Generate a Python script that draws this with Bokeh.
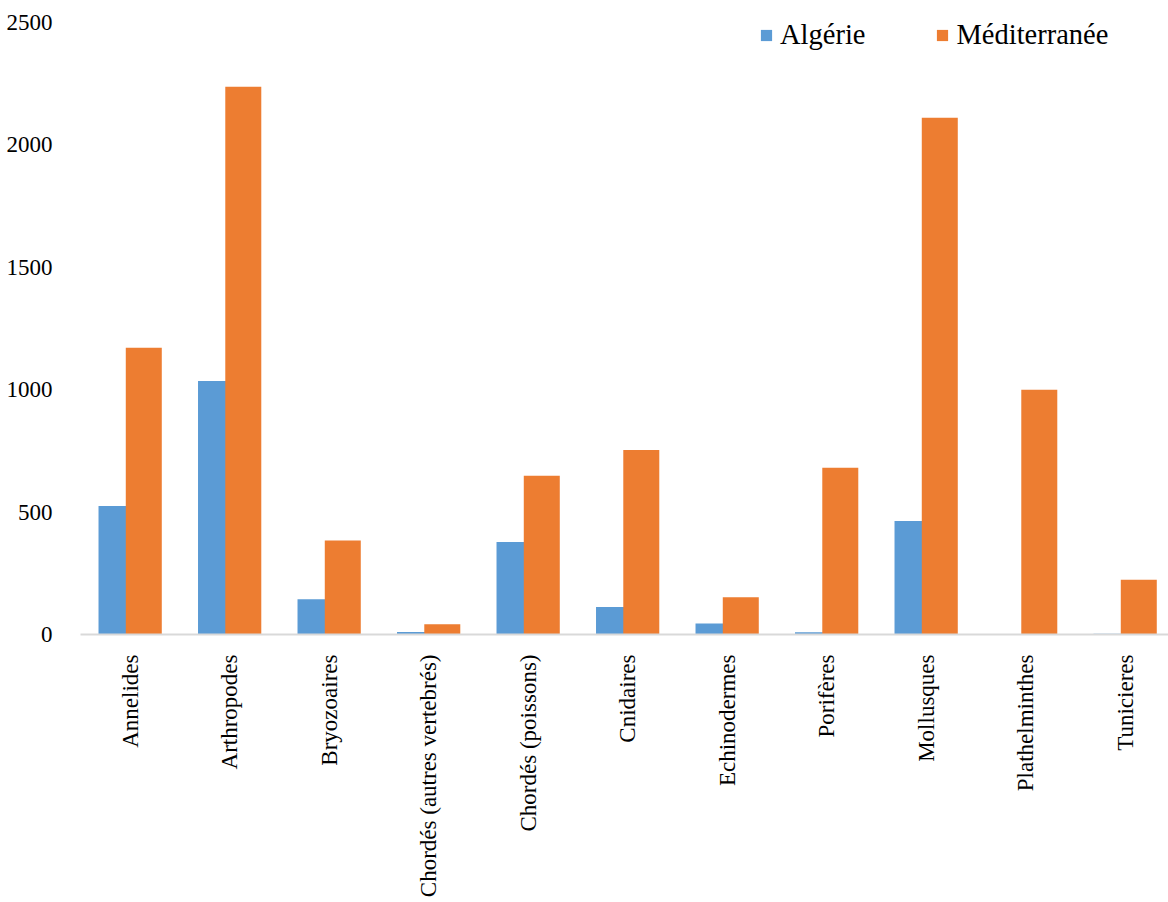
import math
from bokeh.plotting import figure
from bokeh.models import ColumnDataSource, Range1d, FixedTicker, Legend, LegendItem
from bokeh.transform import dodge
from bokeh.embed import file_html
from bokeh.resources import INLINE

# Number of species per group: Algeria vs. whole Mediterranean
categories = ["Annelides", "Arthropodes", "Bryozoaires", "Chordés (autres vertebrés)",
              "Chordés (poissons)", "Cnidaires", "Echinodermes", "Porifères",
              "Mollusques", "Plathelminthes", "Tunicieres"]
algerie = [525, 1036, 144, 10, 378, 112, 45, 9, 464, 0, 3]
mediterranee = [1171, 2238, 384, 42, 648, 754, 152, 681, 2111, 1000, 224]
y_ticks = [0, 500, 1000, 1500, 2000, 2500]

FONT = "Liberation Serif"
BLUE = "#5B9BD5"
ORANGE = "#ED7D31"

idx = list(range(len(categories)))
src = ColumnDataSource(dict(x=idx, alg=algerie, med=mediterranee))

W, H = 1168, 902
LEFT, BOTTOM = 80, 268
frame_w = W - LEFT
frame_h = H - BOTTOM
cat_px = 99.5           # width of one category slot in pixels
px_per_unit = 612 / 2500  # vertical scale: 2500 sits 22 px below the top edge

p = figure(width=W, height=H, output_backend="svg", toolbar_location=None,
           x_range=Range1d(-0.5, -0.5 + frame_w / cat_px),
           y_range=Range1d(0, frame_h / px_per_unit),
           min_border_left=LEFT, min_border_right=0,
           min_border_top=0, min_border_bottom=BOTTOM)
p.outline_line_color = None
p.xgrid.grid_line_color = None
p.ygrid.grid_line_color = None
p.background_fill_color = "white"
p.border_fill_color = "white"

bw = 36 / cat_px
r_alg = p.vbar(x=dodge("x", -0.138, range=p.x_range), top="alg", width=bw, bottom=0,
               source=src, fill_color=BLUE, line_color=None)
r_med = p.vbar(x=dodge("x", 0.136, range=p.x_range), top="med", width=bw, bottom=0,
               source=src, fill_color=ORANGE, line_color=None)

# x axis: category names, rotated to read bottom-to-top
p.xaxis.ticker = FixedTicker(ticks=idx)
p.xaxis.major_label_overrides = {i: c for i, c in zip(idx, categories)}
p.xaxis.major_label_orientation = math.pi / 2
p.xaxis.major_label_text_font = FONT
p.xaxis.major_label_text_font_size = "23px"
p.xaxis.major_label_text_color = "black"
p.xaxis.major_label_standoff = 14
p.xaxis.major_tick_line_color = None
p.xaxis.minor_tick_line_color = None
p.xaxis.axis_line_color = "#d9d9d9"
p.xaxis.axis_line_width = 2

# y axis: plain numbers, no line or ticks
p.yaxis.ticker = FixedTicker(ticks=y_ticks)
p.yaxis.major_label_text_font = FONT
p.yaxis.major_label_text_font_size = "23px"
p.yaxis.major_label_text_color = "black"
p.yaxis.major_label_standoff = 22
p.yaxis.axis_line_color = None
p.yaxis.major_tick_line_color = None
p.yaxis.minor_tick_line_color = None

legend = Legend(items=[LegendItem(label="Algérie", renderers=[r_alg]),
                       LegendItem(label="Méditerranée", renderers=[r_med])],
                orientation="horizontal", location=(679, 583),
                glyph_width=14, glyph_height=14, label_standoff=7, spacing=70,
                padding=0, margin=0, border_line_color=None,
                background_fill_alpha=0)
legend.label_text_font = "'Liberation Serif', serif"
legend.label_text_font_size = "28.5px"
legend.label_text_color = "black"
p.add_layout(legend, "center")

open("out.html", "w").write(file_html(p, INLINE))
